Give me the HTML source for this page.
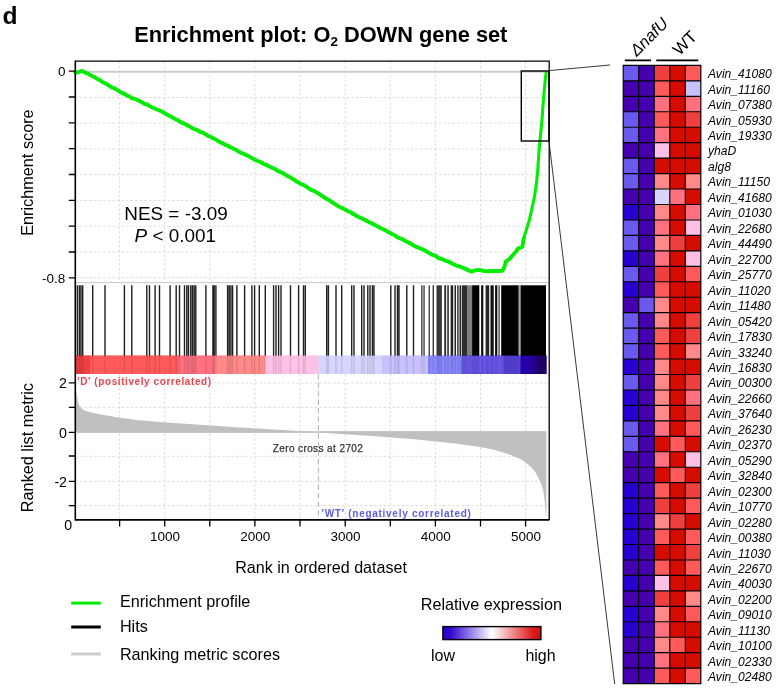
<!DOCTYPE html>
<html><head><meta charset="utf-8"><title>Enrichment plot</title>
<style>
html,body{margin:0;padding:0;background:#fff;}
body{width:779px;height:692px;overflow:hidden;}
svg{display:block;font-family:"Liberation Sans", Arial, sans-serif;}
text{fill:#000;}
</style></head><body>
<svg width="779" height="692" viewBox="0 0 779 692">
<rect width="779" height="692" fill="#fff"/>

<text x="2.6" y="23.8" font-size="24.6" font-weight="bold">d</text>
<text x="134.2" y="41.6" font-size="21.8" font-weight="bold">Enrichment plot: O<tspan font-size="13.4" dy="4.6">2</tspan><tspan dy="-4.6"> DOWN gene set</tspan></text>
<path d="M119.6 61.1V282.5M119.6 374V519.9M164.7 61.1V282.5M164.7 374V519.9M209.8 61.1V282.5M209.8 374V519.9M254.9 61.1V282.5M254.9 374V519.9M300.0 61.1V282.5M300.0 374V519.9M345.2 61.1V282.5M345.2 374V519.9M390.3 61.1V282.5M390.3 374V519.9M435.4 61.1V282.5M435.4 374V519.9M480.5 61.1V282.5M480.5 374V519.9M525.6 61.1V282.5M525.6 374V519.9M75.3 97.5H548.9M75.3 123.2H548.9M75.3 148.9H548.9M75.3 174.7H548.9M75.3 200.4H548.9M75.3 226.2H548.9M75.3 251.9H548.9M75.3 277.7H548.9M75.3 383.0H548.9M75.3 407.4H548.9M75.3 456.3H548.9M75.3 481.3H548.9M75.3 505.6H548.9" stroke="#dcdcdc" stroke-width="1" stroke-dasharray="2.5 2.1" fill="none"/>
<path d="M75.3 71.8H548.9" stroke="#cdcdcd" stroke-width="2" fill="none"/>
<path d="M75.3 282.6H548.9" stroke="#c8c8c8" stroke-width="1" fill="none"/>
<path d="M75.2 432.6 L75.6 391.0 L76.7 394.0 L78.3 403.3 L80.0 407.0 L83.3 410.0 L90.0 412.3 L103.4 415.0 L120.0 417.8 L136.8 420.0 L170.0 422.7 L203.5 425.0 L237.0 427.3 L270.0 429.3 L303.6 431.3 L318.4 432.3 L318.4 432.6Z" fill="#c0c0c0"/>
<path d="M318.4 431.4 L318.4 432.4 L375.5 436.2 L414.0 439.3 L452.5 443.2 L475.0 446.2 L491.0 449.0 L510.3 454.7 L520.0 459.0 L525.7 462.4 L531.0 467.0 L535.3 472.0 L538.5 478.0 L541.0 483.6 L543.0 490.0 L544.2 497.0 L545.2 506.0 L545.8 516.0 L546.4 516.0 L546.4 431.4Z" fill="#c0c0c0"/>
<path d="M75.3 432H546.4" stroke="#c0c0c0" stroke-width="1.7" fill="none"/>
<path d="M318.4 374V519.9" stroke="#b0b0b0" stroke-width="1" stroke-dasharray="5.5 3" fill="none"/>
<rect x="75.2" y="355.6" width="15.1" height="18.4" fill="#EF4040"/>
<rect x="90.0" y="355.6" width="88.8" height="18.4" fill="#FF5A5A"/>
<rect x="178.5" y="355.6" width="36.8" height="18.4" fill="#FF7080"/>
<rect x="215.0" y="355.6" width="50.3" height="18.4" fill="#FF8989"/>
<rect x="265.0" y="355.6" width="53.7" height="18.4" fill="#FFC0E5"/>
<rect x="318.4" y="355.6" width="63.9" height="18.4" fill="#D5D5FF"/>
<rect x="382.0" y="355.6" width="46.3" height="18.4" fill="#C7C1FF"/>
<rect x="428.0" y="355.6" width="33.8" height="18.4" fill="#8888FF"/>
<rect x="461.5" y="355.6" width="42.8" height="18.4" fill="#6B58EF"/>
<rect x="504.0" y="355.6" width="16.8" height="18.4" fill="#5a46e4"/>
<rect x="520.5" y="355.6" width="9.8" height="18.4" fill="#2c00c0"/>
<rect x="530.0" y="355.6" width="7.3" height="18.4" fill="#2a00a0"/>
<rect x="537.0" y="355.6" width="9.5" height="18.4" fill="#240070"/>
<path d="M77.4 285.3V374M79.4 285.3V374M81.0 285.3V374M82.7 285.3V374M92.7 285.3V374M105.0 285.3V374M124.4 285.3V374M131.8 285.3V374M146.8 285.3V374M149.5 285.3V374M155.1 285.3V374M159.5 285.3V374M170.1 285.3V374M176.2 285.3V374M179.5 285.3V374M184.5 285.3V374M186.8 285.3V374M188.5 285.3V374M190.8 285.3V374M192.5 285.3V374M194.2 285.3V374M195.8 285.3V374M205.9 285.3V374M212.9 285.3V374M214.2 285.3V374M215.9 285.3V374M227.6 285.3V374M229.2 285.3V374M230.9 285.3V374M232.6 285.3V374M236.9 285.3V374M244.6 285.3V374M251.9 285.3V374M254.6 285.3V374M259.3 285.3V374M265.3 285.3V374M273.6 285.3V374M276.0 285.3V374M278.6 285.3V374M281.0 285.3V374M290.5 285.3V374M298.6 285.3V374M303.5 285.3V374M305.3 285.3V374M326.7 285.3V374M328.4 285.3V374M336.0 285.3V374M341.7 285.3V374M351.7 285.3V374M354.0 285.3V374M361.7 285.3V374M364.0 285.3V374M367.8 285.3V374M370.0 285.3V374M372.4 285.3V374M374.0 285.3V374M390.8 285.3V374M395.0 285.3V374M397.5 285.3V374M399.0 285.3V374M406.8 285.3V374M413.5 285.3V374" stroke="#000" stroke-width="1.4" fill="none" opacity="0.88"/>
<rect x="421.2" y="285.3" width="1.3" height="88.7" fill="#000" opacity="0.8"/>
<rect x="423.4" y="285.3" width="1.3" height="88.7" fill="#000" opacity="0.8"/>
<rect x="428.6" y="285.3" width="1.3" height="88.7" fill="#000" opacity="0.8"/>
<rect x="432.6" y="285.3" width="1.4" height="88.7" fill="#000" opacity="0.8"/>
<rect x="436.5" y="285.3" width="5.4" height="88.7" fill="#000" opacity="0.78"/>
<rect x="444.3" y="285.3" width="1.8" height="88.7" fill="#000" opacity="0.85"/>
<rect x="447.3" y="285.3" width="1.5" height="88.7" fill="#000" opacity="0.85"/>
<rect x="450.6" y="285.3" width="2.6" height="88.7" fill="#000" opacity="0.85"/>
<rect x="454.5" y="285.3" width="1.5" height="88.7" fill="#000" opacity="0.85"/>
<rect x="457.2" y="285.3" width="1.4" height="88.7" fill="#000" opacity="0.85"/>
<rect x="459.5" y="285.3" width="1.5" height="88.7" fill="#000" opacity="0.85"/>
<rect x="461.7" y="285.3" width="5.4" height="88.7" fill="#000" opacity="0.82"/>
<rect x="467.1" y="285.3" width="5.0" height="88.7" fill="#000" opacity="0.5"/>
<rect x="472.1" y="285.3" width="7.2" height="88.7" fill="#000" opacity="1"/>
<rect x="481.1" y="285.3" width="2.2" height="88.7" fill="#000" opacity="0.95"/>
<rect x="485.6" y="285.3" width="3.6" height="88.7" fill="#000" opacity="0.85"/>
<rect x="490.5" y="285.3" width="3.2" height="88.7" fill="#000" opacity="0.95"/>
<rect x="495.1" y="285.3" width="2.2" height="88.7" fill="#000" opacity="0.95"/>
<rect x="498.5" y="285.3" width="1.1" height="88.7" fill="#000" opacity="0.9"/>
<rect x="501.2" y="285.3" width="17.4" height="88.7" fill="#000" opacity="1"/>
<rect x="518.6" y="285.3" width="2.0" height="88.7" fill="#000" opacity="0.35"/>
<rect x="520.6" y="285.3" width="25.4" height="88.7" fill="#000" opacity="1"/>
<rect x="75.2" y="355.6" width="15.1" height="18.4" fill="#EF4040" opacity="0.88"/>
<rect x="90.0" y="355.6" width="88.8" height="18.4" fill="#FF5A5A" opacity="0.88"/>
<rect x="178.5" y="355.6" width="36.8" height="18.4" fill="#FF7080" opacity="0.88"/>
<rect x="215.0" y="355.6" width="50.3" height="18.4" fill="#FF8989" opacity="0.88"/>
<rect x="265.0" y="355.6" width="53.7" height="18.4" fill="#FFC0E5" opacity="0.88"/>
<rect x="318.4" y="355.6" width="63.9" height="18.4" fill="#D5D5FF" opacity="0.88"/>
<rect x="382.0" y="355.6" width="46.3" height="18.4" fill="#C7C1FF" opacity="0.88"/>
<rect x="428.0" y="355.6" width="33.8" height="18.4" fill="#8888FF" opacity="0.88"/>
<rect x="461.5" y="355.6" width="42.8" height="18.4" fill="#6B58EF" opacity="0.88"/>
<rect x="504.0" y="355.6" width="16.8" height="18.4" fill="#5a46e4" opacity="0.88"/>
<rect x="520.5" y="355.6" width="9.8" height="18.4" fill="#2c00c0" opacity="0.88"/>
<rect x="530.0" y="355.6" width="7.3" height="18.4" fill="#2a00a0" opacity="0.88"/>
<rect x="537.0" y="355.6" width="9.5" height="18.4" fill="#240070" opacity="0.88"/>
<path d="M75.4 72.6 L78.0 72.4 L80.0 71.5 L82.5 71.0 L85.0 72.7 L88.0 73.5 L90.2 75.1 L92.5 76.2 L94.7 77.1 L97.3 79.0 L99.8 80.1 L102.4 81.9 L105.0 83.2 L107.2 84.4 L109.4 85.8 L111.6 87.3 L113.8 88.0 L116.0 89.2 L118.3 90.7 L120.5 92.2 L122.7 93.1 L124.9 94.1 L127.1 95.8 L129.3 96.2 L131.8 98.1 L134.4 98.8 L136.9 99.8 L139.4 101.0 L141.9 102.3 L144.5 103.9 L147.0 104.5 L149.4 106.0 L151.9 107.2 L154.3 108.2 L156.7 109.5 L159.1 110.2 L161.6 111.4 L164.0 112.7 L166.3 114.3 L168.7 115.4 L171.0 116.6 L173.3 118.0 L175.7 119.2 L178.0 120.3 L180.4 122.0 L182.8 123.1 L185.2 124.0 L187.6 125.5 L190.0 126.7 L192.6 128.3 L195.2 129.4 L197.8 130.3 L200.4 132.1 L203.0 132.7 L205.6 134.3 L208.2 136.0 L210.8 136.9 L213.4 138.5 L216.0 139.5 L218.3 141.2 L220.6 142.4 L222.9 143.4 L225.2 144.8 L227.5 145.6 L229.8 147.0 L232.1 148.1 L234.5 149.2 L236.8 150.3 L239.1 151.8 L241.4 153.0 L243.7 153.8 L246.0 155.1 L248.3 155.8 L250.6 157.5 L252.9 158.6 L255.2 160.0 L257.5 161.0 L259.9 161.7 L262.2 163.0 L264.5 164.4 L266.8 165.0 L269.1 166.5 L271.4 167.4 L273.7 168.5 L276.0 169.6 L278.4 171.4 L280.7 172.0 L283.0 173.2 L285.3 174.5 L287.5 176.2 L289.6 176.8 L291.8 178.3 L294.0 179.7 L296.1 181.2 L298.3 182.4 L300.5 183.7 L302.6 184.5 L304.8 185.8 L307.0 187.0 L309.2 188.7 L311.3 190.0 L313.5 190.7 L315.7 191.9 L317.8 193.2 L320.0 194.5 L322.4 196.2 L324.9 197.9 L327.4 199.2 L329.8 200.5 L332.2 202.4 L334.7 203.9 L337.0 205.3 L339.3 206.8 L341.6 207.8 L343.9 208.9 L346.2 210.2 L348.5 211.5 L350.8 212.2 L353.2 214.1 L355.5 215.3 L357.8 216.6 L360.1 217.7 L362.4 218.6 L364.7 219.9 L367.0 220.9 L369.3 222.5 L371.6 223.2 L373.9 224.5 L376.2 225.8 L378.6 226.9 L380.9 228.3 L383.2 229.2 L385.5 230.4 L387.8 231.7 L390.1 232.9 L392.4 234.3 L394.7 235.2 L397.1 237.1 L399.4 238.1 L401.7 238.9 L404.0 240.2 L406.3 241.4 L408.6 242.6 L410.9 243.6 L413.2 245.3 L415.5 246.6 L417.8 247.3 L420.1 248.5 L422.5 249.3 L424.8 250.5 L427.1 251.9 L429.4 253.0 L431.7 254.6 L434.0 255.2 L436.3 256.3 L438.6 258.2 L441.1 258.9 L443.5 259.6 L446.0 260.9 L448.5 261.5 L451.0 263.0 L453.4 264.4 L455.9 265.3 L458.4 266.2 L460.9 267.0 L463.5 268.1 L466.0 269.0 L468.9 270.7 L471.8 271.6 L474.2 270.5 L476.9 270.1 L479.7 270.0 L482.4 270.7 L485.0 271.1 L487.7 271.2 L491.4 271.0 L495.0 270.9 L498.5 271.0 L502.0 270.9 L503.6 269.0 L504.8 265.4 L506.0 261.5 L508.0 259.9 L510.0 258.5 L512.0 256.0 L514.0 253.8 L516.0 251.5 L517.9 248.6 L520.0 247.8 L522.3 247.0 L523.0 242.4 L523.8 238.3" stroke="#04ec04" stroke-width="3.9" fill="none" stroke-linejoin="round" stroke-linecap="round"/>
<path d="M523.8 238.3 L524.7 235.1 L525.7 232.1 L526.6 229.1 L527.4 226.3 L528.2 223.8 L529.0 221.3 L529.8 218.5 L530.4 215.4 L531.0 212.7 L531.6 210.0 L532.2 206.7 L532.8 204.4 L533.4 201.8 L534.0 198.9 L534.6 196.1 L535.0 193.1 L535.4 190.1 L535.8 187.8 L536.2 184.7 L536.5 182.5 L536.8 180.1 L537.0 177.0 L537.3 174.5 L537.6 172.4 L537.8 169.6 L538.0 166.5 L538.1 163.9 L538.3 161.3 L538.5 159.3 L538.7 156.6 L538.8 153.5 L539.0 151.5 L539.2 149.0 L539.5 146.0 L539.7 143.1 L540.0 140.5 L540.3 137.5 L540.5 134.7 L540.8 132.8 L541.1 129.8 L541.3 127.0 L541.6 124.6 L541.8 121.7 L542.0 119.6 L542.2 117.0 L542.4 114.0 L542.6 111.5 L542.7 109.0 L542.9 106.5 L543.1 104.2 L543.3 101.4 L543.5 99.1 L543.7 96.6 L544.0 93.8 L544.2 91.1 L544.5 88.3 L544.7 85.5 L545.0 82.8 L545.2 80.0 L545.5 77.2 L545.9 74.4 L546.2 71.6" stroke="#04ec04" stroke-width="3.1" fill="none" stroke-linejoin="round" stroke-linecap="butt"/>
<path d="M75.3 61.1H549.1999999999999V519.9" stroke="#000" stroke-width="1.3" fill="none"/>
<path d="M75.3 60.6V519.9H549.4" stroke="#000" stroke-width="1.6" fill="none"/>
<path d="M68.8 71.2H75.3M68.8 97.0H75.3M68.8 122.8H75.3M68.8 148.6H75.3M68.8 174.5H75.3M68.8 200.3H75.3M68.8 226.1H75.3M68.8 252.0H75.3M68.8 277.8H75.3M68.8 382.8H75.3M68.8 407.3H75.3M68.8 432.3H75.3M68.8 456.0H75.3M68.8 481.4H75.3M68.8 505.6H75.3M119.6 519.9V526.6M164.7 519.9V526.6M209.8 519.9V526.6M254.9 519.9V526.6M300.0 519.9V526.6M345.2 519.9V526.6M390.3 519.9V526.6M435.4 519.9V526.6M480.5 519.9V526.6M525.6 519.9V526.6" stroke="#000" stroke-width="1.3" fill="none"/>
<g font-size="13.5" text-anchor="end">
<text x="65.4" y="75.9">0</text><text x="65.2" y="283.2">-0.8</text></g><g font-size="14.2" text-anchor="end">
<text x="67.0" y="387.9">2</text><text x="67.0" y="438.2">0</text><text x="67.0" y="486.9">-2</text>
<text x="72.2" y="530.3">0</text>
</g>
<g font-size="13.5" text-anchor="middle">
<text x="165.0" y="541.2">1000</text>
<text x="255.2" y="541.2">2000</text>
<text x="345.5" y="541.2">3000</text>
<text x="435.7" y="541.2">4000</text>
<text x="525.9" y="541.2">5000</text>
</g>
<text transform="translate(33.3,172.6) rotate(-90)" font-size="16.25" text-anchor="middle">Enrichment score</text>
<text transform="translate(33.2,447.6) rotate(-90)" font-size="16.25" text-anchor="middle">Ranked list metric</text>
<text x="235.2" y="573.3" font-size="16.1">Rank in ordered dataset</text>
<text x="176" y="219.5" font-size="18.9" text-anchor="middle">NES = -3.09</text>
<text x="175.3" y="242" font-size="18.9" text-anchor="middle"><tspan font-style="italic">P</tspan> &lt; 0.001</text>
<text x="77.3" y="385.4" font-size="10" font-weight="bold" style="fill:#ea4650" letter-spacing="0.58">'D' (positively correlated)</text>
<text x="321.6" y="516.8" font-size="10" font-weight="bold" style="fill:#5c5ce4" letter-spacing="0.72">'WT' (negatively correlated)</text>
<text x="272.7" y="451.6" font-size="10" style="fill:#333" stroke="#333" stroke-width="0.25" letter-spacing="0.4">Zero cross at 2702</text>
<rect x="521.3" y="71" width="27.6" height="70" fill="none" stroke="#000" stroke-width="1.4"/>
<path d="M549 70.6L610 65M549 141.5L614.7 684" stroke="#222" stroke-width="0.9" fill="none"/>
<path d="M71.2 603.1H100.8" stroke="#04ec04" stroke-width="3"/>
<path d="M71.2 627H100.8" stroke="#000" stroke-width="3"/>
<path d="M71.2 654H100.8" stroke="#cecece" stroke-width="3"/>
<g font-size="16.2"><text x="119.9" y="606.9">Enrichment profile</text><text x="119.9" y="631.7">Hits</text><text x="119.9" y="660.1">Ranking metric scores</text></g>
<defs><linearGradient id="rg" x1="0" x2="1" y1="0" y2="0"><stop offset="0" stop-color="#2a00cc"/><stop offset="0.08" stop-color="#3408d0"/><stop offset="0.5" stop-color="#ffffff"/><stop offset="0.92" stop-color="#dc1c1c"/><stop offset="1" stop-color="#d40c0c"/></linearGradient></defs>
<text x="420.7" y="609.6" font-size="16.2">Relative expression</text>
<rect x="442.9" y="626.6" width="98" height="13" fill="url(#rg)" stroke="#000" stroke-width="1.4"/>
<text x="431.0" y="661.1" font-size="16">low</text><text x="525.4" y="661.1" font-size="16">high</text>
<rect x="623.20" y="65.40" width="15.63" height="15.55" fill="#6B58EF"/>
<rect x="638.73" y="65.40" width="15.63" height="15.55" fill="#4500AD"/>
<rect x="654.26" y="65.40" width="15.63" height="15.55" fill="#EF4040"/>
<rect x="669.79" y="65.40" width="15.63" height="15.55" fill="#D60C00"/>
<rect x="685.32" y="65.40" width="15.63" height="15.55" fill="#FF5A5A"/>
<rect x="623.20" y="80.86" width="15.63" height="15.55" fill="#4500AD"/>
<rect x="638.73" y="80.86" width="15.63" height="15.55" fill="#4500AD"/>
<rect x="654.26" y="80.86" width="15.63" height="15.55" fill="#FF5A5A"/>
<rect x="669.79" y="80.86" width="15.63" height="15.55" fill="#D60C00"/>
<rect x="685.32" y="80.86" width="15.63" height="15.55" fill="#C7C1FF"/>
<rect x="623.20" y="96.31" width="15.63" height="15.55" fill="#4500AD"/>
<rect x="638.73" y="96.31" width="15.63" height="15.55" fill="#4500AD"/>
<rect x="654.26" y="96.31" width="15.63" height="15.55" fill="#FF7080"/>
<rect x="669.79" y="96.31" width="15.63" height="15.55" fill="#D60C00"/>
<rect x="685.32" y="96.31" width="15.63" height="15.55" fill="#FF7080"/>
<rect x="623.20" y="111.77" width="15.63" height="15.55" fill="#6B58EF"/>
<rect x="638.73" y="111.77" width="15.63" height="15.55" fill="#4500AD"/>
<rect x="654.26" y="111.77" width="15.63" height="15.55" fill="#FF5A5A"/>
<rect x="669.79" y="111.77" width="15.63" height="15.55" fill="#D60C00"/>
<rect x="685.32" y="111.77" width="15.63" height="15.55" fill="#EF4040"/>
<rect x="623.20" y="127.22" width="15.63" height="15.55" fill="#6B58EF"/>
<rect x="638.73" y="127.22" width="15.63" height="15.55" fill="#4500AD"/>
<rect x="654.26" y="127.22" width="15.63" height="15.55" fill="#FF7080"/>
<rect x="669.79" y="127.22" width="15.63" height="15.55" fill="#D60C00"/>
<rect x="685.32" y="127.22" width="15.63" height="15.55" fill="#D60C00"/>
<rect x="623.20" y="142.68" width="15.63" height="15.55" fill="#4500AD"/>
<rect x="638.73" y="142.68" width="15.63" height="15.55" fill="#4500AD"/>
<rect x="654.26" y="142.68" width="15.63" height="15.55" fill="#FFC0E5"/>
<rect x="669.79" y="142.68" width="15.63" height="15.55" fill="#D60C00"/>
<rect x="685.32" y="142.68" width="15.63" height="15.55" fill="#D60C00"/>
<rect x="623.20" y="158.13" width="15.63" height="15.55" fill="#6B58EF"/>
<rect x="638.73" y="158.13" width="15.63" height="15.55" fill="#4500AD"/>
<rect x="654.26" y="158.13" width="15.63" height="15.55" fill="#D60C00"/>
<rect x="669.79" y="158.13" width="15.63" height="15.55" fill="#D60C00"/>
<rect x="685.32" y="158.13" width="15.63" height="15.55" fill="#D60C00"/>
<rect x="623.20" y="173.59" width="15.63" height="15.55" fill="#6B58EF"/>
<rect x="638.73" y="173.59" width="15.63" height="15.55" fill="#4500AD"/>
<rect x="654.26" y="173.59" width="15.63" height="15.55" fill="#FF8989"/>
<rect x="669.79" y="173.59" width="15.63" height="15.55" fill="#D60C00"/>
<rect x="685.32" y="173.59" width="15.63" height="15.55" fill="#FF8989"/>
<rect x="623.20" y="189.04" width="15.63" height="15.55" fill="#4500AD"/>
<rect x="638.73" y="189.04" width="15.63" height="15.55" fill="#4500AD"/>
<rect x="654.26" y="189.04" width="15.63" height="15.55" fill="#D5D5FF"/>
<rect x="669.79" y="189.04" width="15.63" height="15.55" fill="#FF7080"/>
<rect x="685.32" y="189.04" width="15.63" height="15.55" fill="#D60C00"/>
<rect x="623.20" y="204.50" width="15.63" height="15.55" fill="#2700D1"/>
<rect x="638.73" y="204.50" width="15.63" height="15.55" fill="#4500AD"/>
<rect x="654.26" y="204.50" width="15.63" height="15.55" fill="#FF8989"/>
<rect x="669.79" y="204.50" width="15.63" height="15.55" fill="#D60C00"/>
<rect x="685.32" y="204.50" width="15.63" height="15.55" fill="#FF7080"/>
<rect x="623.20" y="219.95" width="15.63" height="15.55" fill="#6B58EF"/>
<rect x="638.73" y="219.95" width="15.63" height="15.55" fill="#4500AD"/>
<rect x="654.26" y="219.95" width="15.63" height="15.55" fill="#FF7080"/>
<rect x="669.79" y="219.95" width="15.63" height="15.55" fill="#D60C00"/>
<rect x="685.32" y="219.95" width="15.63" height="15.55" fill="#FFC0E5"/>
<rect x="623.20" y="235.41" width="15.63" height="15.55" fill="#6B58EF"/>
<rect x="638.73" y="235.41" width="15.63" height="15.55" fill="#4500AD"/>
<rect x="654.26" y="235.41" width="15.63" height="15.55" fill="#FF8989"/>
<rect x="669.79" y="235.41" width="15.63" height="15.55" fill="#EF4040"/>
<rect x="685.32" y="235.41" width="15.63" height="15.55" fill="#D60C00"/>
<rect x="623.20" y="250.86" width="15.63" height="15.55" fill="#2700D1"/>
<rect x="638.73" y="250.86" width="15.63" height="15.55" fill="#4500AD"/>
<rect x="654.26" y="250.86" width="15.63" height="15.55" fill="#FF7080"/>
<rect x="669.79" y="250.86" width="15.63" height="15.55" fill="#D60C00"/>
<rect x="685.32" y="250.86" width="15.63" height="15.55" fill="#FFC0E5"/>
<rect x="623.20" y="266.31" width="15.63" height="15.55" fill="#6B58EF"/>
<rect x="638.73" y="266.31" width="15.63" height="15.55" fill="#4500AD"/>
<rect x="654.26" y="266.31" width="15.63" height="15.55" fill="#EF4040"/>
<rect x="669.79" y="266.31" width="15.63" height="15.55" fill="#D60C00"/>
<rect x="685.32" y="266.31" width="15.63" height="15.55" fill="#FF5A5A"/>
<rect x="623.20" y="281.77" width="15.63" height="15.55" fill="#2700D1"/>
<rect x="638.73" y="281.77" width="15.63" height="15.55" fill="#4500AD"/>
<rect x="654.26" y="281.77" width="15.63" height="15.55" fill="#FF5A5A"/>
<rect x="669.79" y="281.77" width="15.63" height="15.55" fill="#D60C00"/>
<rect x="685.32" y="281.77" width="15.63" height="15.55" fill="#D60C00"/>
<rect x="623.20" y="297.23" width="15.63" height="15.55" fill="#4500AD"/>
<rect x="638.73" y="297.23" width="15.63" height="15.55" fill="#6B58EF"/>
<rect x="654.26" y="297.23" width="15.63" height="15.55" fill="#FF8989"/>
<rect x="669.79" y="297.23" width="15.63" height="15.55" fill="#D60C00"/>
<rect x="685.32" y="297.23" width="15.63" height="15.55" fill="#D60C00"/>
<rect x="623.20" y="312.68" width="15.63" height="15.55" fill="#6B58EF"/>
<rect x="638.73" y="312.68" width="15.63" height="15.55" fill="#4500AD"/>
<rect x="654.26" y="312.68" width="15.63" height="15.55" fill="#FF8989"/>
<rect x="669.79" y="312.68" width="15.63" height="15.55" fill="#D60C00"/>
<rect x="685.32" y="312.68" width="15.63" height="15.55" fill="#EF4040"/>
<rect x="623.20" y="328.13" width="15.63" height="15.55" fill="#6B58EF"/>
<rect x="638.73" y="328.13" width="15.63" height="15.55" fill="#4500AD"/>
<rect x="654.26" y="328.13" width="15.63" height="15.55" fill="#FF5A5A"/>
<rect x="669.79" y="328.13" width="15.63" height="15.55" fill="#D60C00"/>
<rect x="685.32" y="328.13" width="15.63" height="15.55" fill="#EF4040"/>
<rect x="623.20" y="343.59" width="15.63" height="15.55" fill="#6B58EF"/>
<rect x="638.73" y="343.59" width="15.63" height="15.55" fill="#4500AD"/>
<rect x="654.26" y="343.59" width="15.63" height="15.55" fill="#FF5A5A"/>
<rect x="669.79" y="343.59" width="15.63" height="15.55" fill="#D60C00"/>
<rect x="685.32" y="343.59" width="15.63" height="15.55" fill="#FF8989"/>
<rect x="623.20" y="359.04" width="15.63" height="15.55" fill="#2700D1"/>
<rect x="638.73" y="359.04" width="15.63" height="15.55" fill="#4500AD"/>
<rect x="654.26" y="359.04" width="15.63" height="15.55" fill="#FF8989"/>
<rect x="669.79" y="359.04" width="15.63" height="15.55" fill="#D60C00"/>
<rect x="685.32" y="359.04" width="15.63" height="15.55" fill="#D60C00"/>
<rect x="623.20" y="374.50" width="15.63" height="15.55" fill="#6B58EF"/>
<rect x="638.73" y="374.50" width="15.63" height="15.55" fill="#4500AD"/>
<rect x="654.26" y="374.50" width="15.63" height="15.55" fill="#FF8989"/>
<rect x="669.79" y="374.50" width="15.63" height="15.55" fill="#D60C00"/>
<rect x="685.32" y="374.50" width="15.63" height="15.55" fill="#EF4040"/>
<rect x="623.20" y="389.96" width="15.63" height="15.55" fill="#2700D1"/>
<rect x="638.73" y="389.96" width="15.63" height="15.55" fill="#4500AD"/>
<rect x="654.26" y="389.96" width="15.63" height="15.55" fill="#FF8989"/>
<rect x="669.79" y="389.96" width="15.63" height="15.55" fill="#D60C00"/>
<rect x="685.32" y="389.96" width="15.63" height="15.55" fill="#FF7080"/>
<rect x="623.20" y="405.41" width="15.63" height="15.55" fill="#2700D1"/>
<rect x="638.73" y="405.41" width="15.63" height="15.55" fill="#4500AD"/>
<rect x="654.26" y="405.41" width="15.63" height="15.55" fill="#FF8989"/>
<rect x="669.79" y="405.41" width="15.63" height="15.55" fill="#D60C00"/>
<rect x="685.32" y="405.41" width="15.63" height="15.55" fill="#EF4040"/>
<rect x="623.20" y="420.87" width="15.63" height="15.55" fill="#6B58EF"/>
<rect x="638.73" y="420.87" width="15.63" height="15.55" fill="#4500AD"/>
<rect x="654.26" y="420.87" width="15.63" height="15.55" fill="#FF7080"/>
<rect x="669.79" y="420.87" width="15.63" height="15.55" fill="#D60C00"/>
<rect x="685.32" y="420.87" width="15.63" height="15.55" fill="#FF5A5A"/>
<rect x="623.20" y="436.32" width="15.63" height="15.55" fill="#6B58EF"/>
<rect x="638.73" y="436.32" width="15.63" height="15.55" fill="#4500AD"/>
<rect x="654.26" y="436.32" width="15.63" height="15.55" fill="#D60C00"/>
<rect x="669.79" y="436.32" width="15.63" height="15.55" fill="#FF5A5A"/>
<rect x="685.32" y="436.32" width="15.63" height="15.55" fill="#D60C00"/>
<rect x="623.20" y="451.77" width="15.63" height="15.55" fill="#4500AD"/>
<rect x="638.73" y="451.77" width="15.63" height="15.55" fill="#4500AD"/>
<rect x="654.26" y="451.77" width="15.63" height="15.55" fill="#FF7080"/>
<rect x="669.79" y="451.77" width="15.63" height="15.55" fill="#D60C00"/>
<rect x="685.32" y="451.77" width="15.63" height="15.55" fill="#FFC0E5"/>
<rect x="623.20" y="467.23" width="15.63" height="15.55" fill="#4500AD"/>
<rect x="638.73" y="467.23" width="15.63" height="15.55" fill="#4500AD"/>
<rect x="654.26" y="467.23" width="15.63" height="15.55" fill="#D60C00"/>
<rect x="669.79" y="467.23" width="15.63" height="15.55" fill="#FF5A5A"/>
<rect x="685.32" y="467.23" width="15.63" height="15.55" fill="#D60C00"/>
<rect x="623.20" y="482.69" width="15.63" height="15.55" fill="#2700D1"/>
<rect x="638.73" y="482.69" width="15.63" height="15.55" fill="#4500AD"/>
<rect x="654.26" y="482.69" width="15.63" height="15.55" fill="#FF5A5A"/>
<rect x="669.79" y="482.69" width="15.63" height="15.55" fill="#D60C00"/>
<rect x="685.32" y="482.69" width="15.63" height="15.55" fill="#EF4040"/>
<rect x="623.20" y="498.14" width="15.63" height="15.55" fill="#2700D1"/>
<rect x="638.73" y="498.14" width="15.63" height="15.55" fill="#4500AD"/>
<rect x="654.26" y="498.14" width="15.63" height="15.55" fill="#EF4040"/>
<rect x="669.79" y="498.14" width="15.63" height="15.55" fill="#D60C00"/>
<rect x="685.32" y="498.14" width="15.63" height="15.55" fill="#FF5A5A"/>
<rect x="623.20" y="513.60" width="15.63" height="15.55" fill="#2700D1"/>
<rect x="638.73" y="513.60" width="15.63" height="15.55" fill="#4500AD"/>
<rect x="654.26" y="513.60" width="15.63" height="15.55" fill="#FF8989"/>
<rect x="669.79" y="513.60" width="15.63" height="15.55" fill="#EF4040"/>
<rect x="685.32" y="513.60" width="15.63" height="15.55" fill="#D60C00"/>
<rect x="623.20" y="529.05" width="15.63" height="15.55" fill="#2700D1"/>
<rect x="638.73" y="529.05" width="15.63" height="15.55" fill="#4500AD"/>
<rect x="654.26" y="529.05" width="15.63" height="15.55" fill="#FF5A5A"/>
<rect x="669.79" y="529.05" width="15.63" height="15.55" fill="#D60C00"/>
<rect x="685.32" y="529.05" width="15.63" height="15.55" fill="#FF5A5A"/>
<rect x="623.20" y="544.50" width="15.63" height="15.55" fill="#2700D1"/>
<rect x="638.73" y="544.50" width="15.63" height="15.55" fill="#4500AD"/>
<rect x="654.26" y="544.50" width="15.63" height="15.55" fill="#D60C00"/>
<rect x="669.79" y="544.50" width="15.63" height="15.55" fill="#D60C00"/>
<rect x="685.32" y="544.50" width="15.63" height="15.55" fill="#EF4040"/>
<rect x="623.20" y="559.96" width="15.63" height="15.55" fill="#4500AD"/>
<rect x="638.73" y="559.96" width="15.63" height="15.55" fill="#4500AD"/>
<rect x="654.26" y="559.96" width="15.63" height="15.55" fill="#FF5A5A"/>
<rect x="669.79" y="559.96" width="15.63" height="15.55" fill="#D60C00"/>
<rect x="685.32" y="559.96" width="15.63" height="15.55" fill="#FF5A5A"/>
<rect x="623.20" y="575.41" width="15.63" height="15.55" fill="#2700D1"/>
<rect x="638.73" y="575.41" width="15.63" height="15.55" fill="#4500AD"/>
<rect x="654.26" y="575.41" width="15.63" height="15.55" fill="#FFC0E5"/>
<rect x="669.79" y="575.41" width="15.63" height="15.55" fill="#D60C00"/>
<rect x="685.32" y="575.41" width="15.63" height="15.55" fill="#D60C00"/>
<rect x="623.20" y="590.87" width="15.63" height="15.55" fill="#4500AD"/>
<rect x="638.73" y="590.87" width="15.63" height="15.55" fill="#4500AD"/>
<rect x="654.26" y="590.87" width="15.63" height="15.55" fill="#EF4040"/>
<rect x="669.79" y="590.87" width="15.63" height="15.55" fill="#D60C00"/>
<rect x="685.32" y="590.87" width="15.63" height="15.55" fill="#FF8989"/>
<rect x="623.20" y="606.32" width="15.63" height="15.55" fill="#2700D1"/>
<rect x="638.73" y="606.32" width="15.63" height="15.55" fill="#4500AD"/>
<rect x="654.26" y="606.32" width="15.63" height="15.55" fill="#FF8989"/>
<rect x="669.79" y="606.32" width="15.63" height="15.55" fill="#D60C00"/>
<rect x="685.32" y="606.32" width="15.63" height="15.55" fill="#FF5A5A"/>
<rect x="623.20" y="621.78" width="15.63" height="15.55" fill="#2700D1"/>
<rect x="638.73" y="621.78" width="15.63" height="15.55" fill="#4500AD"/>
<rect x="654.26" y="621.78" width="15.63" height="15.55" fill="#FF7080"/>
<rect x="669.79" y="621.78" width="15.63" height="15.55" fill="#D60C00"/>
<rect x="685.32" y="621.78" width="15.63" height="15.55" fill="#D60C00"/>
<rect x="623.20" y="637.24" width="15.63" height="15.55" fill="#4500AD"/>
<rect x="638.73" y="637.24" width="15.63" height="15.55" fill="#4500AD"/>
<rect x="654.26" y="637.24" width="15.63" height="15.55" fill="#FF8989"/>
<rect x="669.79" y="637.24" width="15.63" height="15.55" fill="#FF5A5A"/>
<rect x="685.32" y="637.24" width="15.63" height="15.55" fill="#D60C00"/>
<rect x="623.20" y="652.69" width="15.63" height="15.55" fill="#4500AD"/>
<rect x="638.73" y="652.69" width="15.63" height="15.55" fill="#4500AD"/>
<rect x="654.26" y="652.69" width="15.63" height="15.55" fill="#FF7080"/>
<rect x="669.79" y="652.69" width="15.63" height="15.55" fill="#D60C00"/>
<rect x="685.32" y="652.69" width="15.63" height="15.55" fill="#D60C00"/>
<rect x="623.20" y="668.14" width="15.63" height="15.55" fill="#4500AD"/>
<rect x="638.73" y="668.14" width="15.63" height="15.55" fill="#4500AD"/>
<rect x="654.26" y="668.14" width="15.63" height="15.55" fill="#FF5A5A"/>
<rect x="669.79" y="668.14" width="15.63" height="15.55" fill="#D60C00"/>
<rect x="685.32" y="668.14" width="15.63" height="15.55" fill="#FF5A5A"/>
<path d="M623.20 65.4V683.60M638.73 65.4V683.60M654.26 65.4V683.60M669.79 65.4V683.60M685.32 65.4V683.60M700.85 65.4V683.60M623.2 65.40H700.85M623.2 80.86H700.85M623.2 96.31H700.85M623.2 111.77H700.85M623.2 127.22H700.85M623.2 142.68H700.85M623.2 158.13H700.85M623.2 173.59H700.85M623.2 189.04H700.85M623.2 204.50H700.85M623.2 219.95H700.85M623.2 235.41H700.85M623.2 250.86H700.85M623.2 266.31H700.85M623.2 281.77H700.85M623.2 297.23H700.85M623.2 312.68H700.85M623.2 328.13H700.85M623.2 343.59H700.85M623.2 359.04H700.85M623.2 374.50H700.85M623.2 389.96H700.85M623.2 405.41H700.85M623.2 420.87H700.85M623.2 436.32H700.85M623.2 451.77H700.85M623.2 467.23H700.85M623.2 482.69H700.85M623.2 498.14H700.85M623.2 513.60H700.85M623.2 529.05H700.85M623.2 544.50H700.85M623.2 559.96H700.85M623.2 575.41H700.85M623.2 590.87H700.85M623.2 606.32H700.85M623.2 621.78H700.85M623.2 637.24H700.85M623.2 652.69H700.85M623.2 668.14H700.85M623.2 683.60H700.85" stroke="#000" stroke-width="1.15" fill="none" stroke-linecap="square"/>
<g font-size="12.1" font-style="italic">
<text x="708" y="78.1">Avin_41080</text>
<text x="708" y="93.6">Avin_11160</text>
<text x="708" y="109.1">Avin_07380</text>
<text x="708" y="124.5">Avin_05930</text>
<text x="708" y="140.0">Avin_19330</text>
<text x="708" y="155.4">yhaD</text>
<text x="708" y="170.9">alg8</text>
<text x="708" y="186.4">Avin_11150</text>
<text x="708" y="201.8">Avin_41680</text>
<text x="708" y="217.3">Avin_01030</text>
<text x="708" y="232.8">Avin_22680</text>
<text x="708" y="248.2">Avin_44490</text>
<text x="708" y="263.7">Avin_22700</text>
<text x="708" y="279.1">Avin_25770</text>
<text x="708" y="294.6">Avin_11020</text>
<text x="708" y="310.1">Avin_11480</text>
<text x="708" y="325.5">Avin_05420</text>
<text x="708" y="341.0">Avin_17830</text>
<text x="708" y="356.5">Avin_33240</text>
<text x="708" y="371.9">Avin_16830</text>
<text x="708" y="387.4">Avin_00300</text>
<text x="708" y="402.8">Avin_22660</text>
<text x="708" y="418.3">Avin_37640</text>
<text x="708" y="433.8">Avin_26230</text>
<text x="708" y="449.2">Avin_02370</text>
<text x="708" y="464.7">Avin_05290</text>
<text x="708" y="480.2">Avin_32840</text>
<text x="708" y="495.6">Avin_02300</text>
<text x="708" y="511.1">Avin_10770</text>
<text x="708" y="526.5">Avin_02280</text>
<text x="708" y="542.0">Avin_00380</text>
<text x="708" y="557.5">Avin_11030</text>
<text x="708" y="572.9">Avin_22670</text>
<text x="708" y="588.4">Avin_40030</text>
<text x="708" y="603.9">Avin_02200</text>
<text x="708" y="619.3">Avin_09010</text>
<text x="708" y="634.8">Avin_11130</text>
<text x="708" y="650.2">Avin_10100</text>
<text x="708" y="665.7">Avin_02330</text>
<text x="708" y="681.2">Avin_02480</text>
</g>
<path d="M624.8 60.4H651M656.3 60.4H698.3" stroke="#000" stroke-width="1.8"/>
<text transform="translate(636.7,57.05) rotate(-45)" font-size="16.5" font-style="italic">ΔnafU</text>
<text transform="translate(679.6,56.3) rotate(-45)" font-size="16.8">WT</text>
</svg></body></html>
